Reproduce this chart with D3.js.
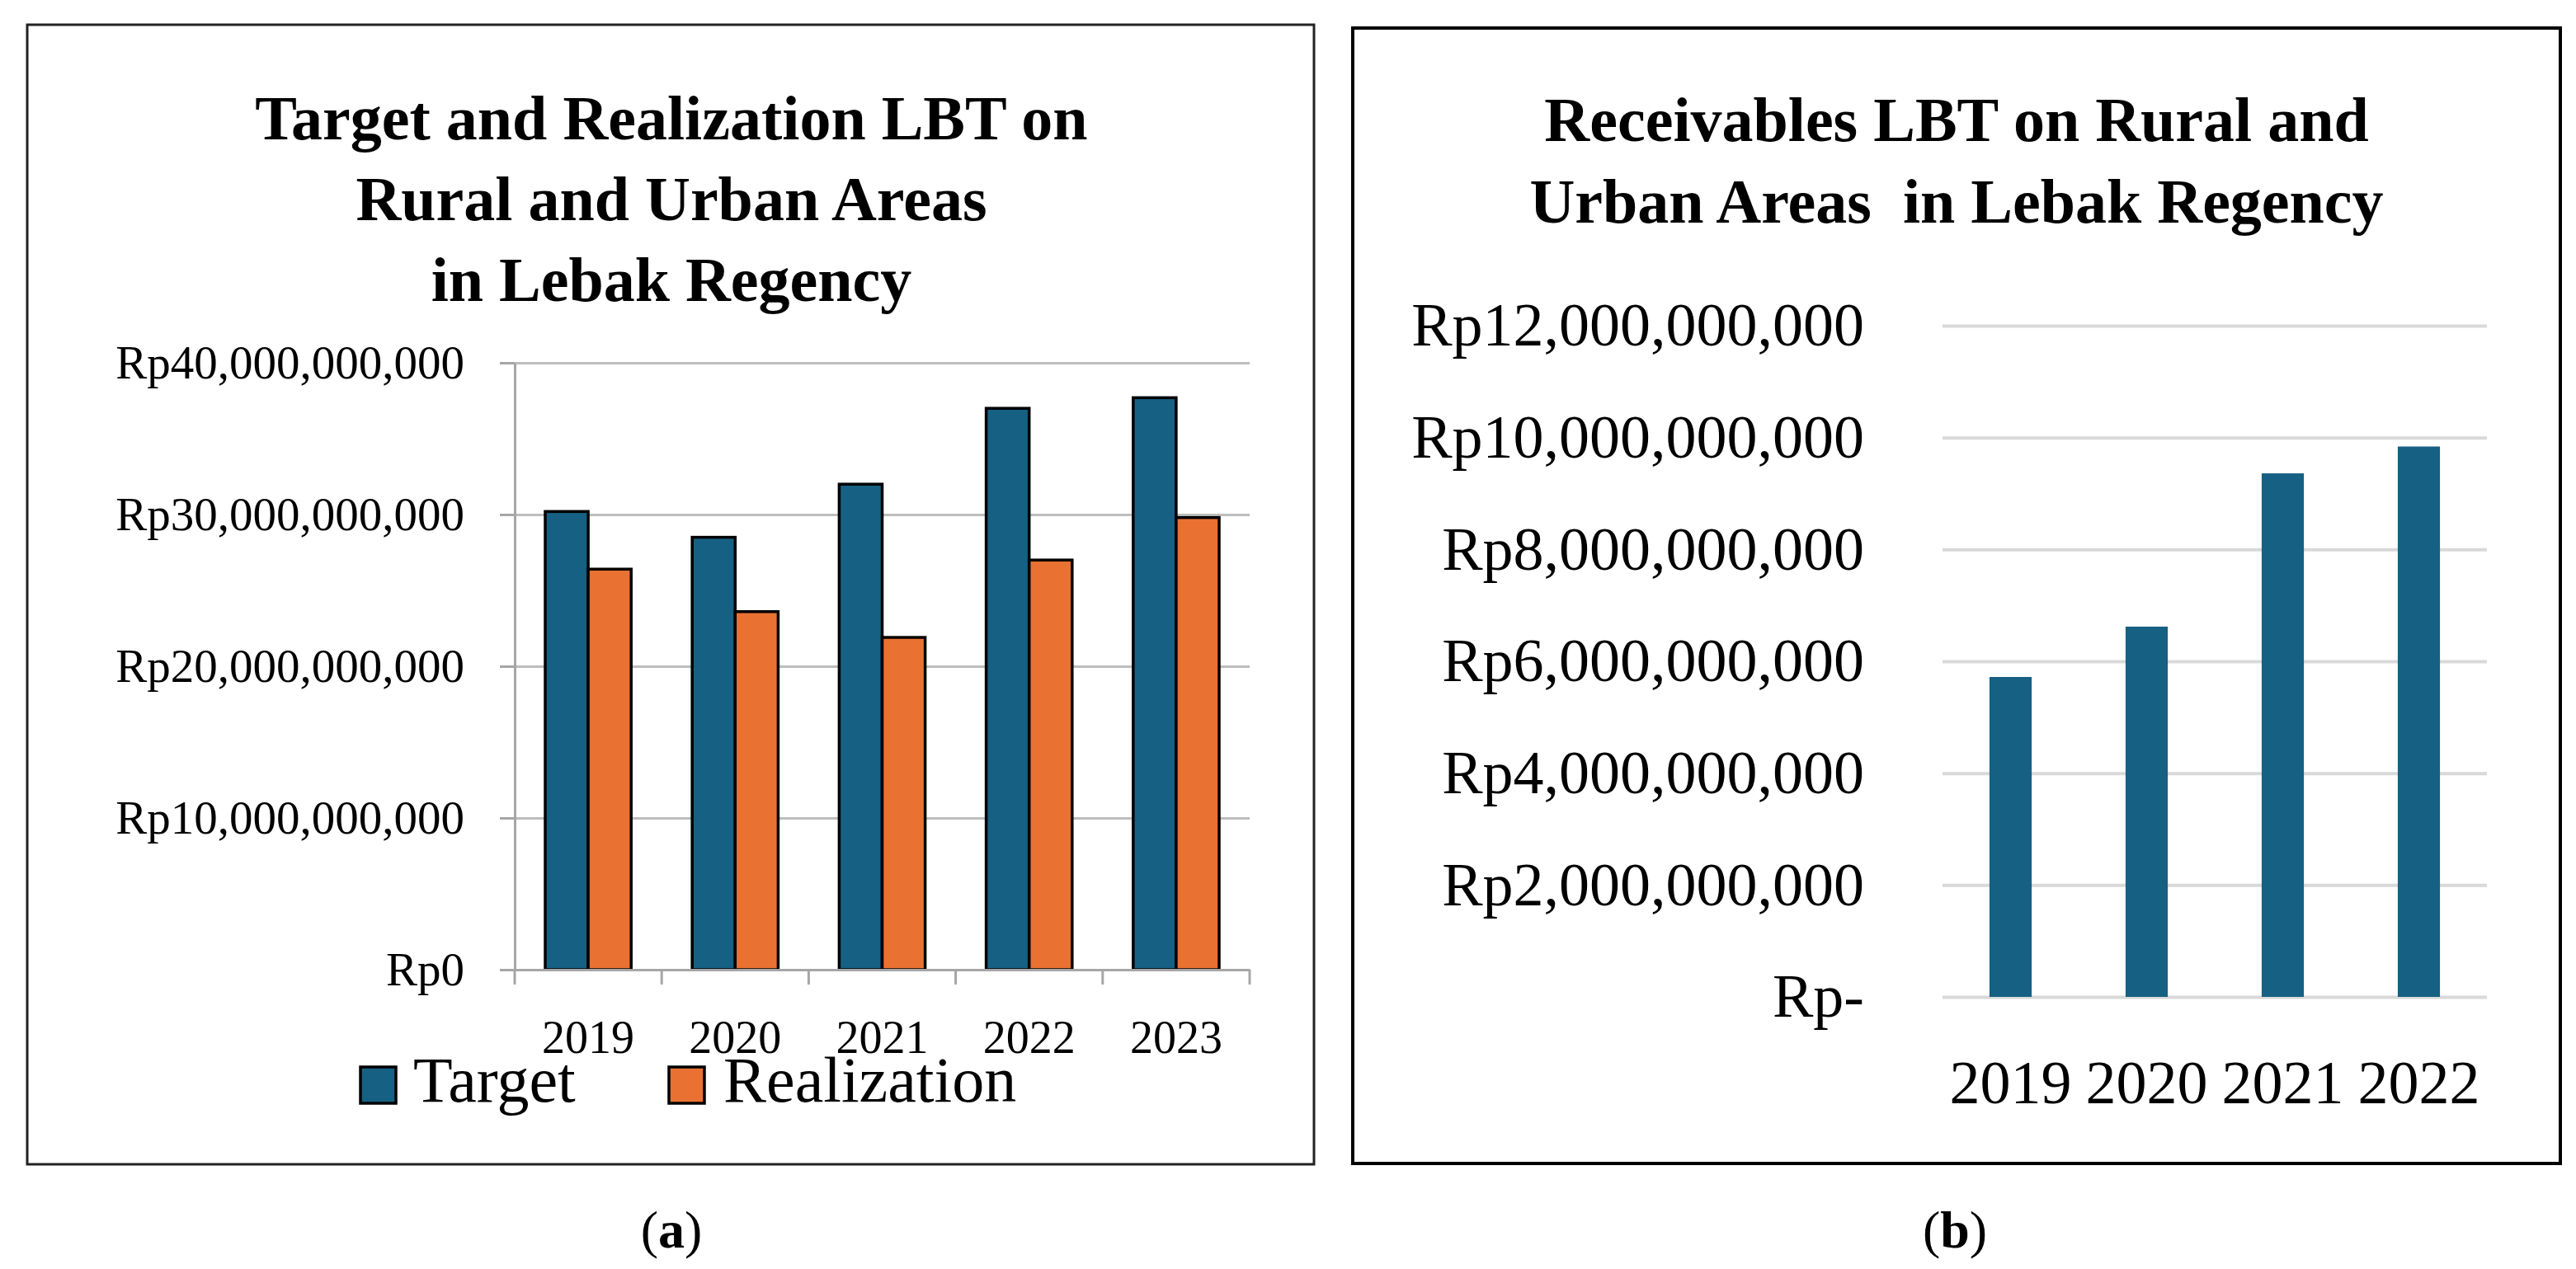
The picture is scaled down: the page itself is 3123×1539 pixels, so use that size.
<!DOCTYPE html>
<html>
<head>
<meta charset="utf-8">
<script src="https://cdn.jsdelivr.net/npm/d3@7"></script>
<style>
  body { margin: 0; background: #fff; }
  text { font-family: "Liberation Serif", "Times New Roman", serif; fill: #000; }
</style>
</head>
<body>
<script>
//data of chart (a)
var yearsA = ["2019", "2020", "2021", "2022", "2023"];
var seriesA = ["Target", "Realization"];
var targetVals = [30.2e9, 28.5e9, 32.0e9, 37.0e9, 37.7e9];
var realizationVals = [26.4e9, 23.6e9, 21.9e9, 27.0e9, 29.8e9];
var ticksA = [0, 10e9, 20e9, 30e9, 40e9];
//data of chart (b)
var yearsB = ["2019", "2020", "2021", "2022"];
var receivableVals = [5.72e9, 6.62e9, 9.36e9, 9.84e9];
var ticksB = [0, 2e9, 4e9, 6e9, 8e9, 10e9, 12e9];

var blue = "#166083";
var orange = "#e97132";

var svg = d3.select("body").append("svg")
    .attr("width", 3123)
    .attr("height", 1539);

svg.append("rect").attr("width", 3123).attr("height", 1539).attr("fill", "#fff");

//panel frames
svg.append("rect").attr("x", 33).attr("y", 30).attr("width", 1560).attr("height", 1382)
    .attr("fill", "none").attr("stroke", "#222").attr("stroke-width", 3);
svg.append("rect").attr("x", 1640).attr("y", 34).attr("width", 1464).attr("height", 1377)
    .attr("fill", "none").attr("stroke", "#000").attr("stroke-width", 4);

function rp(v) { return "Rp" + d3.format(",")(v); }

//----- chart (a) -----
var xA = d3.scaleBand().domain(yearsA).range([624, 1515]);
var xInner = d3.scaleBand().domain(seriesA).range([0, xA.bandwidth()])
    .paddingInner(0).paddingOuter(0.71);
var yA = d3.scaleLinear().domain([0, 40e9]).range([1176, 440]);

var titleA = svg.append("text").attr("text-anchor", "middle")
    .attr("font-weight", "bold").attr("font-size", 76);
["Target and Realization LBT on", "Rural and Urban Areas", "in Lebak Regency"].forEach(function(t, i) {
    titleA.append("tspan").attr("x", 814).attr("y", 169 + i * 98).text(t);
});

//gridlines
svg.append("g")
    .attr("transform", "translate(624,0)")
    .call(d3.axisLeft(yA).tickValues(ticksA).tickSizeInner(-891).tickSizeOuter(0).tickFormat(""))
    .call(function(g) {
        g.select(".domain").remove();
        g.selectAll(".tick line").attr("stroke", "#bdbdbd").attr("stroke-width", 3);
    });
//y axis with labels
svg.append("g")
    .attr("transform", "translate(624,0)")
    .call(d3.axisLeft(yA).tickValues(ticksA).tickSizeInner(18).tickSizeOuter(0)
        .tickPadding(43).tickFormat(rp))
    .call(function(g) {
        g.select(".domain").attr("stroke", "#a6a6a6").attr("stroke-width", 3);
        g.selectAll(".tick line").attr("stroke", "#a6a6a6").attr("stroke-width", 3);
        g.selectAll(".tick text").attr("font-size", 57)
            .attr("font-family", "Liberation Serif").attr("fill", "#000");
    });

//bars
var groupsA = svg.append("g").selectAll("g")
    .data(yearsA)
    .enter().append("g")
    .attr("transform", function(d) { return "translate(" + xA(d) + ",0)"; });
groupsA.selectAll("rect")
    .data(function(d, i) {
        return [{s: "Target", v: targetVals[i]}, {s: "Realization", v: realizationVals[i]}];
    })
    .enter().append("rect")
    .attr("x", function(d) { return xInner(d.s); })
    .attr("width", xInner.bandwidth())
    .attr("y", function(d) { return yA(d.v); })
    .attr("height", function(d) { return yA(0) - yA(d.v); })
    .attr("fill", function(d) { return d.s === "Target" ? blue : orange; })
    .attr("stroke", "#000")
    .attr("stroke-width", 3.5);

//x axis: labels + ticks at category boundaries
svg.append("g")
    .attr("transform", "translate(0,1176)")
    .call(d3.axisBottom(xA).tickSize(0).tickPadding(61))
    .call(function(g) {
        g.select(".domain").attr("stroke", "#a6a6a6").attr("stroke-width", 3);
        g.selectAll(".tick text").attr("font-size", 56)
            .attr("font-family", "Liberation Serif").attr("fill", "#000");
    });
svg.append("g").selectAll("line")
    .data(yearsA.map(function(d) { return xA(d); }).concat([xA.range()[1]]))
    .enter().append("line")
    .attr("x1", function(d) { return d; }).attr("x2", function(d) { return d; })
    .attr("y1", 1176).attr("y2", 1194)
    .attr("stroke", "#a6a6a6").attr("stroke-width", 3);

//legend
var legendPos = [{x: 437, tx: 501}, {x: 811, tx: 877}];
var legend = svg.append("g").selectAll("g")
    .data(seriesA)
    .enter().append("g");
legend.append("rect")
    .attr("x", function(d, i) { return legendPos[i].x; })
    .attr("y", 1294).attr("width", 43).attr("height", 44)
    .attr("fill", function(d, i) { return i === 0 ? blue : orange; })
    .attr("stroke", "#000").attr("stroke-width", 3.5);
legend.append("text")
    .attr("x", function(d, i) { return legendPos[i].tx; })
    .attr("y", 1336)
    .attr("font-size", 78)
    .text(function(d) { return d; });

//----- chart (b) -----
var xB = d3.scaleBand().domain(yearsB).range([2355, 3015]).paddingInner(0.69).paddingOuter(0.345);
var yB = d3.scaleLinear().domain([0, 12e9]).range([1209, 395]);

var titleB = svg.append("text").attr("text-anchor", "middle")
    .attr("font-weight", "bold").attr("font-size", 76)
    .style("white-space", "pre");
["Receivables LBT on Rural and", "Urban Areas  in Lebak Regency"].forEach(function(t, i) {
    titleB.append("tspan").attr("x", 2372).attr("y", 171 + i * 99).text(t);
});

svg.append("g")
    .attr("transform", "translate(2355,0)")
    .call(d3.axisLeft(yB).tickValues(ticksB).tickSizeInner(-660).tickSizeOuter(0)
        .tickPadding(95).tickFormat(function(v) { return v === 0 ? "Rp-" : rp(v); }))
    .call(function(g) {
        g.select(".domain").remove();
        g.selectAll(".tick line").attr("stroke", "#d9d9d9").attr("stroke-width", 4);
        g.selectAll(".tick text").attr("font-size", 74)
            .attr("font-family", "Liberation Serif").attr("fill", "#000");
    });

svg.append("g").selectAll("rect")
    .data(receivableVals)
    .enter().append("rect")
    .attr("x", function(d, i) { return xB(yearsB[i]); })
    .attr("width", xB.bandwidth())
    .attr("y", function(d) { return yB(d); })
    .attr("height", function(d) { return yB(0) - yB(d); })
    .attr("fill", blue);

svg.append("g")
    .attr("transform", "translate(0,1209)")
    .call(d3.axisBottom(xB).tickSize(0).tickPadding(76))
    .call(function(g) {
        g.select(".domain").remove();
        g.selectAll(".tick text").attr("font-size", 74)
            .attr("font-family", "Liberation Serif").attr("fill", "#000");
    });

//captions
[{x: 814, l: "a"}, {x: 2370, l: "b"}].forEach(function(c) {
    var t = svg.append("text").attr("x", c.x).attr("y", 1513)
        .attr("text-anchor", "middle").attr("font-size", 64);
    t.append("tspan").text("(");
    t.append("tspan").attr("font-weight", "bold").text(c.l);
    t.append("tspan").text(")");
});
</script>
</body>
</html>
